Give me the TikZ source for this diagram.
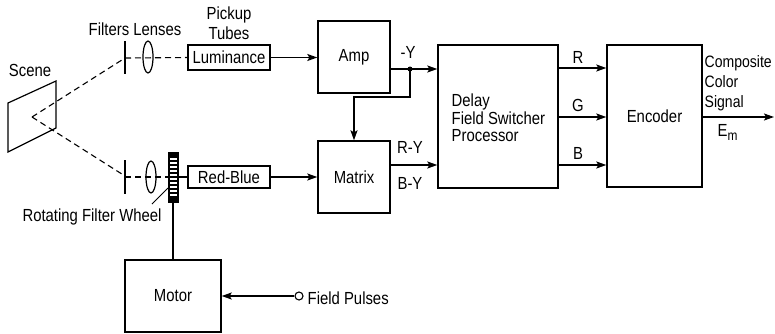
\documentclass[tikz,border=0pt]{standalone}
\usepackage{fontspec}
\setmainfont{Liberation Sans}[FakeStretch=0.85]
\usetikzlibrary{arrows.meta}
\newcommand\dgfont{\fontsize{17.5}{17.5}\selectfont}
\begin{document}
\begin{tikzpicture}[x=1pt,y=-1pt,line width=1.4pt,
  blk/.style={draw,line width=1.4pt,inner sep=0pt,font=\dgfont},
  lbl/.style={inner sep=0pt,font=\dgfont},
  arr/.style={-{Stealth[length=10pt,width=7pt,inset=2pt]}},
  ray/.style={dash pattern=on 6pt off 4pt,line width=1.1pt}]
\useasboundingbox (0,0) rectangle (775,333);
% blocks
\node[blk,minimum width=82pt,minimum height=25pt] (lum) at (229,57.5) {Luminance};
\node[blk,minimum width=82pt,minimum height=22pt] (rb) at (229,177) {Red-Blue};
\node[blk,minimum width=72pt,minimum height=72pt] (amp) at (354,57) {Amp};
\node[blk,minimum width=72pt,minimum height=72pt] (mat) at (354,177) {Matrix};
\node[blk,minimum width=120pt,minimum height=143pt] (del) at (498,116.5) {};
\node[lbl,anchor=west,align=left] (deltxt) at (451,118) {Delay\\Field Switcher\\Processor};
\node[blk,minimum width=95pt,minimum height=142pt] (enc) at (654.5,116) {Encoder};
\node[blk,minimum width=96pt,minimum height=72pt] (mot) at (173,296) {Motor};
% scene
\draw[line width=1.2pt] (8,103) -- (56,81) -- (56,128) -- (8,152) -- cycle;
\node[lbl] (scene) at (30,70) {Scene};
\coordinate (apex) at (32,117);
% upper optics
\coordinate (fu) at (125,58);
\coordinate (fl) at (125,176);
\draw[line width=1.2pt] (125,41) -- (125,74);
\draw[line width=1.2pt] (148,57) ellipse (5pt and 16pt);
\draw[ray] (apex) -- (fu);
\draw[ray] (fu) -- (lum.west);
% lower optics
\draw[line width=1.2pt] (125,160) -- (125,194);
\draw[line width=1.2pt] (151,177) ellipse (5pt and 16pt);
\draw[ray] (apex) -- (fl);
% filter wheel
\node[draw,fill=black,minimum width=10pt,minimum height=50pt,inner sep=0pt,line width=0.8pt] (wh) at (173,177) {};
\foreach \yy in {158,162,...,194} \fill[white] (170,\yy) rectangle (176.5,\yy+2.3);
\draw[ray] (fl |- wh) -- (wh.west);
\draw (wh.east) -- (rb.west);
\coordinate (lead) at (152,204);
\coordinate (leadend) at (168,188);
\draw[line width=1pt] (lead) -- (leadend);
\node[lbl] (rfw) at (92,217) {Rotating Filter Wheel};
% labels
\node[lbl] (fltl) at (135,29) {Filters Lenses};
\node[lbl] (pick) at (229,15) {Pickup};
\node[lbl] (tubes) at (229,33) {Tubes};
% connections
\draw[arr] (lum.east) -- (lum.east -| amp.west);
\draw[arr] (rb.east) -- (rb.east -| mat.west);
\coordinate (dot) at (410,69);
\coordinate (bend) at (410,97);
\draw[arr] (amp.east |- dot) -- (del.west |- dot);
\fill (dot) circle (2.5pt);
\draw[arr] (dot) -- (bend) -| (mat.north);
\node[lbl] (my) at (408,52) {-Y};
\coordinate (mo) at (400,165);
\draw[arr] (mat.east |- mo) -- (del.west |- mo);
\node[lbl] (ry) at (410,147) {R-Y};
\node[lbl] (by) at (410,183) {B-Y};
\coordinate (cr) at (580,68);
\coordinate (cg) at (580,117);
\coordinate (cb) at (580,165);
\draw[arr] (del.east |- cr) -- (enc.west |- cr);
\draw[arr] (del.east |- cg) -- (enc.west |- cg);
\draw[arr] (del.east |- cb) -- (enc.west |- cb);
\node[lbl] (lr) at (578,57) {R};
\node[lbl] (lg) at (578,105) {G};
\node[lbl] (lb) at (578,153) {B};
\coordinate (out) at (774,117);
\draw[arr] (enc.east |- out) -- (out);
\node[lbl,anchor=west,align=left,font=\fontsize{16.5}{20}\selectfont] (ccs) at (704,83) {Composite\\Color\\Signal};
\node[lbl,anchor=west] (em) at (717,132) {E\raisebox{-4pt}{\fontsize{14}{14}\selectfont m}};
% motor
\draw (wh.south) -- (mot.north);
\node[circle,draw,minimum size=8pt,inner sep=0pt,line width=1.1pt] (fp) at (299,296) {};
\draw[arr] (fp.west) -- (mot.east |- fp);
\node[lbl,anchor=west] (fpl) at (307,298) {Field Pulses};
\end{tikzpicture}
\end{document}
